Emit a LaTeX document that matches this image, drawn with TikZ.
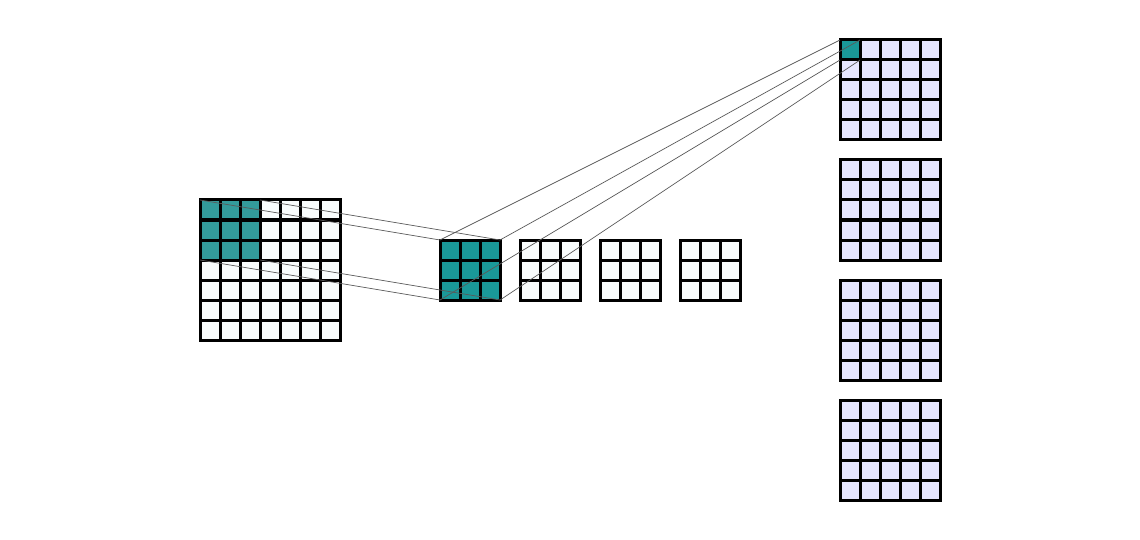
\documentclass[tikz,border=0pt]{standalone}
\usetikzlibrary{calc}
\definecolor{leftteal}{RGB}{51,155,155}
\definecolor{kernteal}{RGB}{26,152,152}
\definecolor{cellwhite}{RGB}{248,252,252}
\definecolor{lav}{RGB}{230,230,255}
\definecolor{linkgray}{RGB}{90,90,90}
\tikzset{gridline/.style={line width=3pt,black,line cap=rect},
 link/.style={linkgray,line width=0.7pt}}
% #1 x, #2 y, #3 n, #4 fill
\newcommand\mkgrid[4]{%
  \fill[#4] (#1,#2) rectangle ++(#3*20,#3*20);
  \foreach \i in {0,...,#3}{%
    \draw[gridline] (#1+\i*20,#2) -- ++(0,#3*20);
    \draw[gridline] (#1,#2+\i*20) -- ++(#3*20,0);
  }}
\begin{document}
\begin{tikzpicture}[x=1pt,y=-1pt]
\useasboundingbox (0,0) rectangle (1140,540);
% left input
\fill[cellwhite] (200,200) rectangle (340,340);
\fill[leftteal] (200,200) rectangle (260,260);
\mkgrid{200}{200}{7}{cellwhite,opacity=0}
% kernels
\fill[kernteal] (440,240) rectangle (500,300);
\mkgrid{440}{240}{3}{kernteal}
\mkgrid{520}{240}{3}{cellwhite}
\mkgrid{600}{240}{3}{cellwhite}
\mkgrid{680}{240}{3}{cellwhite}
% outputs
\fill[lav] (840,40) rectangle (940,140);
\fill[kernteal] (840,40) rectangle (860,60);
\mkgrid{840}{40}{5}{lav,opacity=0}
\mkgrid{840}{160}{5}{lav}
\mkgrid{840}{280}{5}{lav}
\mkgrid{840}{400}{5}{lav}
% corner coordinates
\coordinate (a1) at (200,200); \coordinate (a2) at (260,200);
\coordinate (a3) at (200,260); \coordinate (a4) at (260,260);
\coordinate (k1) at (440,240); \coordinate (k2) at (500,240);
\coordinate (k3) at (440,300); \coordinate (k4) at (500,300);
\coordinate (o1) at (840,40); \coordinate (o2) at (860,40);
\coordinate (o3) at (840,60); \coordinate (o4) at (860,60);
\draw[link] (a1) -- (k1); \draw[link] (a2) -- (k2);
\draw[link] (a3) -- (k3); \draw[link] (a4) -- (k4);
\draw[link] (k1) -- (o1); \draw[link] (k2) -- (o2);
\draw[link] (k3) -- (o3); \draw[link] (k4) -- (o4);
\end{tikzpicture}
\end{document}
